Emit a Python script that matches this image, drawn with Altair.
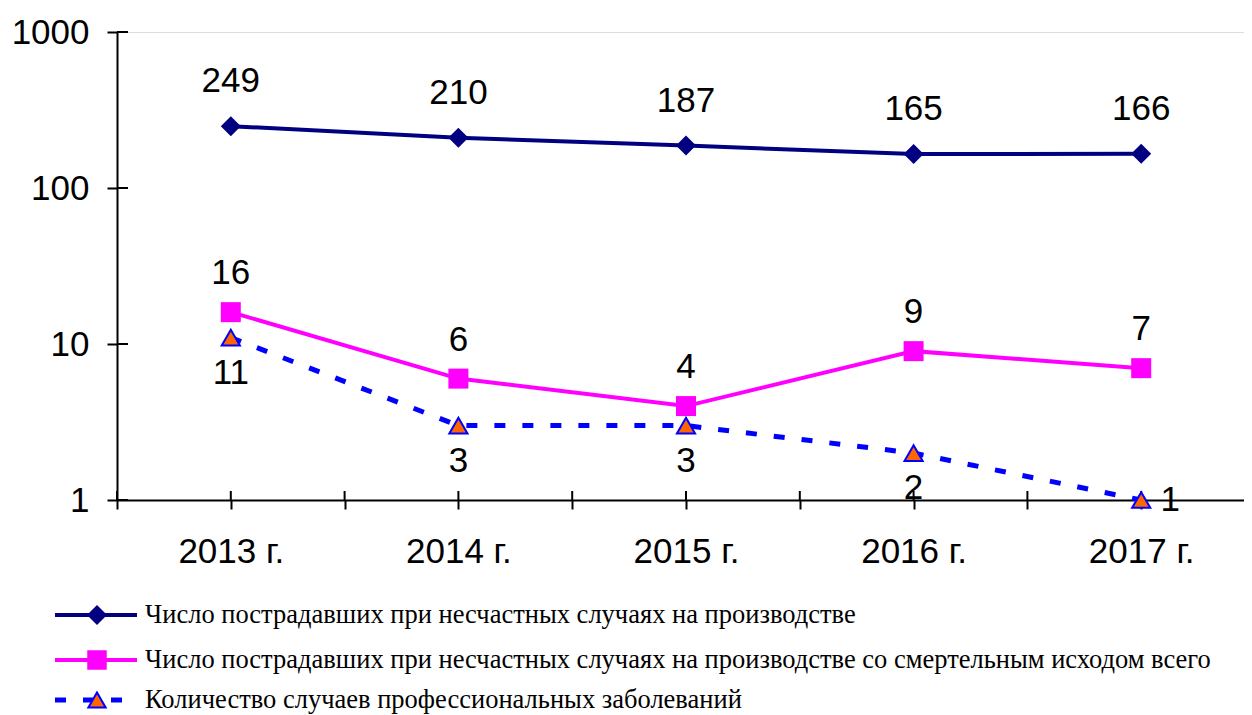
import altair as alt
import pandas as pd

years = [2013, 2014, 2015, 2016, 2017]
injured = [249, 210, 187, 165, 166]
fatal = [16, 6, 4, 9, 7]
occupational = [11, 3, 3, 2, 1]
series_names = [
    "Число пострадавших при несчастных случаях на производстве",
    "Число пострадавших при несчастных случаях на производстве со смертельным исходом всего",
    "Количество случаев профессиональных заболеваний",
]
y_ticks = [1, 10, 100, 1000]

W, H = 1127, 468
PAD = {"left": 109, "top": 24, "right": 0, "bottom": 214}

NAVY, MAGENTA, BLUE, ORANGE = "#000080", "#FF00FF", "#0000FF", "#FF6600"
SANS, SERIF = "Liberation Sans", "Liberation Serif"
DASH = [11, 17]

df1 = pd.DataFrame({"year": years, "value": injured})
df2 = pd.DataFrame({"year": years, "value": fatal})
df3 = pd.DataFrame({"year": years, "value": occupational})

x_ticks = sorted([y - 0.5 for y in years] + years)

xscale = alt.Scale(domain=[years[0] - 0.5, years[0] - 0.5 + W / 227.6], nice=False, zero=False)
yscale = alt.Scale(type="log", domain=[1, 1000], nice=False)

X = alt.X("year:Q", scale=xscale,
          axis=alt.Axis(values=x_ticks, title=None, grid=False,
                        labelExpr="datum.value % 1 == 0 ? datum.value + ' г.' : ''",
                        labelFont=SANS, labelFontSize=35, labelColor="black",
                        labelPadding=25, tickSize=9, tickColor="black", tickWidth=2,
                        domainColor="black", domainWidth=2, labelFlush=False))
Y = alt.Y("value:Q", scale=yscale,
          axis=alt.Axis(values=y_ticks, title=None, grid=False, labelExpr="datum.value",
                        labelFont=SANS, labelFontSize=35, labelColor="black",
                        labelPadding=18, tickSize=10, tickColor="black", tickWidth=2,
                        domainColor="black", domainWidth=2))


def series(df, color, shape, size, dash=None, fill=None, stroke=None):
    line_kw = dict(color=color, strokeWidth=4 if dash is None else 5)
    if dash is not None:
        line_kw["strokeDash"] = dash
    line = alt.Chart(df).mark_line(**line_kw).encode(x=X, y=Y)
    pt = alt.Chart(df).mark_point(shape=shape, size=size, filled=True,
                                  fill=fill or color, stroke=stroke or color,
                                  strokeWidth=2 if stroke else 0, opacity=1).encode(x=X, y=Y)
    return line, pt


l1, p1 = series(df1, NAVY, "diamond", 400)
l2, p2 = series(df2, MAGENTA, "square", 400)
l3, p3 = series(df3, BLUE, "triangle-up", 330, dash=DASH, fill=ORANGE, stroke=BLUE)

lab_kw = dict(font=SANS, fontSize=35, color="black", align="center", baseline="middle")
t1 = alt.Chart(df1).mark_text(dy=-45, **lab_kw).encode(x=X, y=Y, text="value:Q")
t2 = alt.Chart(df2).mark_text(dy=-39, **lab_kw).encode(x=X, y=Y, text="value:Q")
t3a = alt.Chart(df3).transform_filter(f"datum.year < {years[-1]}").mark_text(dy=35, **lab_kw).encode(x=X, y=Y, text="value:Q")
t3b = alt.Chart(df3).transform_filter(f"datum.year == {years[-1]}").mark_text(
    dx=29, **lab_kw).encode(x=X, y=Y, text="value:Q")

# inner halves of the crossing tick marks
xt = alt.Chart(pd.DataFrame({"year": x_ticks})).mark_rule(color="black", strokeWidth=2).encode(
    x=X, y=alt.value(H - 9), y2=alt.value(H))
yt = alt.Chart(pd.DataFrame({"value": y_ticks})).mark_rule(color="black", strokeWidth=2).encode(
    y=Y, x=alt.value(0), x2=alt.value(11))

# legend
legend_layers = []
row_y = [583, 628, 668]
styles = [
    dict(color=NAVY, shape="diamond", size=400, dash=None, fill=NAVY, stroke=None, sw=4),
    dict(color=MAGENTA, shape="square", size=380, dash=None, fill=MAGENTA, stroke=None, sw=4),
    dict(color=BLUE, shape="triangle-up", size=300, dash=DASH, fill=ORANGE, stroke=BLUE, sw=5),
]
for name, ry, st in zip(series_names, row_y, styles):
    d = alt.Data(values=[{"label": name}])
    rk = dict(color=st["color"], strokeWidth=st["sw"])
    if st["dash"]:
        rk["strokeDash"] = st["dash"]
    legend_layers.append(alt.Chart(d).mark_rule(**rk).encode(
        x=alt.value(-62), x2=alt.value(20), y=alt.value(ry)))
    legend_layers.append(alt.Chart(d).mark_point(
        shape=st["shape"], size=st["size"], filled=True, fill=st["fill"],
        stroke=st["stroke"] or st["color"], strokeWidth=2 if st["stroke"] else 0, opacity=1).encode(
        x=alt.value(-20), y=alt.value(ry)))
    legend_layers.append(alt.Chart(d).mark_text(
        font=SERIF, fontSize=26.5, color="black", align="left", baseline="middle").encode(
        x=alt.value(28), y=alt.value(ry), text="label:N"))

chart = alt.layer(
    xt, yt, l3, l2, l1, p3, p2, p1, t1, t2, t3a, t3b, *legend_layers
).properties(
    width=W, height=H, padding=PAD,
    autosize=alt.AutoSizeParams(type="none"),
).configure_view(stroke=None).configure(background="white")

chart.save("out.html", embed_options={"renderer": "svg", "actions": False})
